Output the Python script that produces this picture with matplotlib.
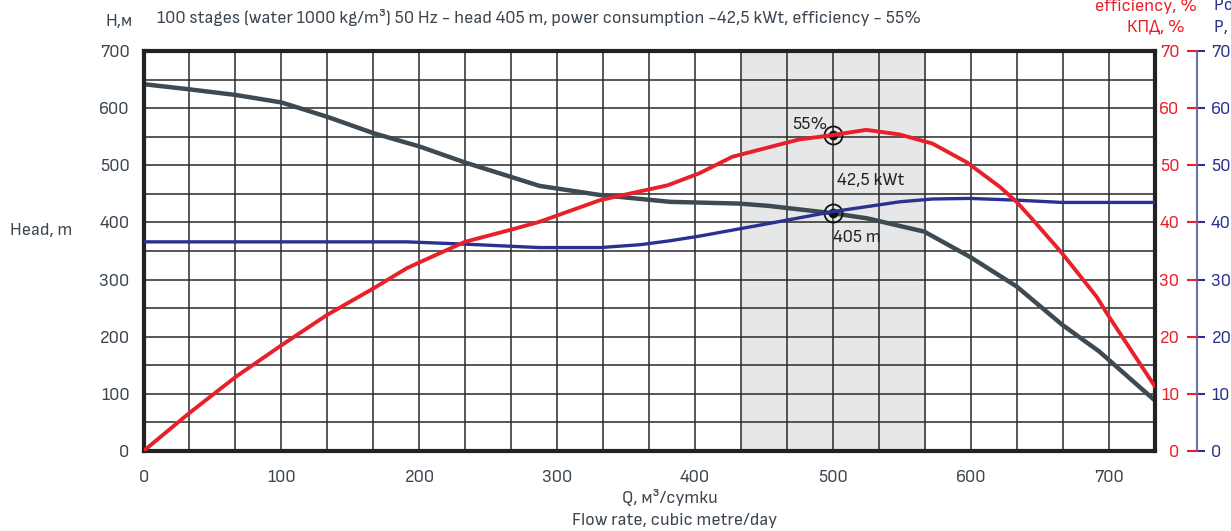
import numpy as np
import matplotlib
matplotlib.use("Agg")
import matplotlib.pyplot as plt
from matplotlib import font_manager

# ---------------- data ----------------
flow_head = [0, 33, 67, 100, 133, 167, 200, 233, 266, 287, 331, 382, 432, 453, 500, 525, 548, 566, 599, 633, 666, 693, 733]
head = [642, 633, 623, 610, 585, 556, 533, 505, 480, 464, 448, 436, 433, 429, 416, 407, 394, 384, 340, 288, 221, 174, 89]

flow_eff = [0, 33, 67, 100, 133, 167, 191, 200, 233, 266, 287, 331, 380, 403, 427, 475, 500, 524, 548,
            572, 597, 621, 633, 645, 666, 691, 700, 733]
efficiency = [0, 6.6, 13.0, 18.5, 23.8, 28.5, 32.0, 33.0, 36.6, 38.7, 40.1, 43.9, 46.5, 48.6, 51.5, 54.5, 55.3, 56.2, 55.4,
              53.8, 50.5, 46.2, 43.6, 40.4, 34.6, 27.0, 23.5, 11.4]

flow_pow = [0, 191, 233, 287, 331, 360, 382, 403, 453, 500, 548, 572, 599, 633, 666, 733]
power = [36.6, 36.6, 36.2, 35.6, 35.6, 36.1, 36.8, 37.6, 39.8, 41.9, 43.6, 44.1, 44.2, 43.9, 43.5, 43.5]

duty_range = [433.33, 566.67]
duty_flow = 500
duty_head = 416
duty_eff = 55.3

x_ticks = [0, 100, 200, 300, 400, 500, 600, 700]
y_ticks = [0, 100, 200, 300, 400, 500, 600, 700]
r_ticks = [0, 10, 20, 30, 40, 50, 60, 70]

# ---------------- style ----------------
avail = {f.name for f in font_manager.fontManager.ttflist}
fam = 'DejaVu Sans'
for c in ['Sofia Sans Semi Condensed', 'Sofia Sans Condensed', 'Roboto Condensed']:
    if c in avail:
        fam = c
        break
plt.rcParams['font.family'] = [fam, 'DejaVu Sans']
FS = 13.5

TXT = '#3b4650'
RED = '#e8202a'
NAVY = '#2b3190'
HEADC = '#3d4a52'
SPINE_B = '#6a6fb5'

W, H = 1231, 531
L, R, T, B = 143.5, 1155, 51, 451

fig = plt.figure(figsize=(W/100, H/100), dpi=100)
ax = fig.add_axes([L/W, 1-B/H, (R-L)/W, (B-T)/H])

ax.set_xlim(0, 733.33)
ax.set_ylim(0, 700)
ax.axvspan(duty_range[0], duty_range[1], color='#e6e7e9', zorder=0)

ax.set_xticks(x_ticks)
ax.set_xticks(np.arange(0, 733.4, 100/3), minor=True)
ax.set_yticks(y_ticks)
ax.set_yticks(np.arange(0, 701, 50), minor=True)
ax.grid(which='both', color='#2a2a2a', lw=1.1, zorder=1)
ax.tick_params(which='both', length=0)
ax.tick_params(axis='x', pad=14, labelsize=FS, labelcolor=TXT)
ax.tick_params(axis='y', pad=10, labelsize=FS, labelcolor=TXT)
for s in ax.spines.values():
    s.set_linewidth(3)
    s.set_color('#222222')
    s.set_zorder(5)

# curves (head on left axis; efficiency and power on right axis)
ax.plot(flow_head, head, color=HEADC, lw=3.2, zorder=3, solid_capstyle='butt')

axr = ax.twinx()
axr.set_ylim(0, 70)
axr.plot(flow_eff, efficiency, color=RED, lw=2.8, zorder=4)
axr.plot(flow_pow, power, color=NAVY, lw=2.4, zorder=3)
for s in ['top', 'left', 'bottom']:
    axr.spines[s].set_visible(False)
spine_pos = (1196.7 - L) / (R - L)
axr.spines['right'].set_position(('axes', spine_pos))
axr.spines['right'].set_color(SPINE_B)
axr.spines['right'].set_linewidth(1.5)
axr.set_yticks(r_ticks)
axr.tick_params(axis='y', direction='out', length=6, width=1.5, color=NAVY,
                labelcolor=NAVY, labelsize=FS, pad=4.5)

axr2 = ax.twinx()
axr2.set_ylim(0, 70)
for s in ['top', 'right', 'bottom']:
    axr2.spines[s].set_visible(False)
axr2.spines['left'].set_position(('axes', spine_pos))
axr2.spines['left'].set_visible(False)
axr2.yaxis.set_ticks_position('left')
axr2.yaxis.set_label_position('left')
axr2.set_yticks(r_ticks)
axr2.tick_params(axis='y', direction='out', length=7.5, width=1.5, color=RED,
                 labelcolor=RED, labelsize=FS, pad=5)

# duty point markers
for xv, yv in [(duty_flow, duty_eff * 10), (duty_flow, duty_head)]:
    ax.plot(xv, yv, 'o', ms=13, mfc='none', mec='#111111', mew=1.3, zorder=6)
    ax.plot(xv, yv, 'o', ms=6, color='#111111', zorder=6)

ax.text(496, 572, '55%', ha='right', va='center', fontsize=FS, color='#222222', zorder=7)
ax.text(503, 474, '42,5 kWt', ha='left', va='center', fontsize=FS, color='#222222', zorder=7)
ax.text(500, 373, '405 m', ha='left', va='center', fontsize=FS, color='#222222', zorder=7)

# texts
fig.text(133/W, 1-21/H, 'Н,м', ha='right', va='center', fontsize=FS, color=TXT)
fig.text(157/W, 1-17/H,
         '100 stages (water 1000 kg/m³) 50 Hz - head 405 m, power consumption -42,5 kWt, efficiency - 55%',
         ha='left', va='center', fontsize=FS, color=TXT)
fig.text(10/W, 1-230/H, 'Head, m', ha='left', va='center', fontsize=FS, color=TXT)
fig.text(670/W, 1-497/H, 'Q, м³/сутки', ha='center', va='center', fontsize=FS, color=TXT)
fig.text(675/W, 1-521/H, 'Flow rate, cubic metre/day', ha='center', va='center', fontsize=FS, color=TXT)
fig.text(1197/W, 1-6/H, 'efficiency, %', ha='right', va='center', fontsize=FS, color=RED)
fig.text(1185/W, 1-27/H, 'КПД, %', ha='right', va='center', fontsize=FS, color=RED)
fig.text(1214/W, 1-6/H, 'Power, kWt', ha='left', va='center', fontsize=FS, color=NAVY)
fig.text(1214/W, 1-27/H, 'P, кВт', ha='left', va='center', fontsize=FS, color=NAVY)

fig.savefig('out.png', dpi=100)
